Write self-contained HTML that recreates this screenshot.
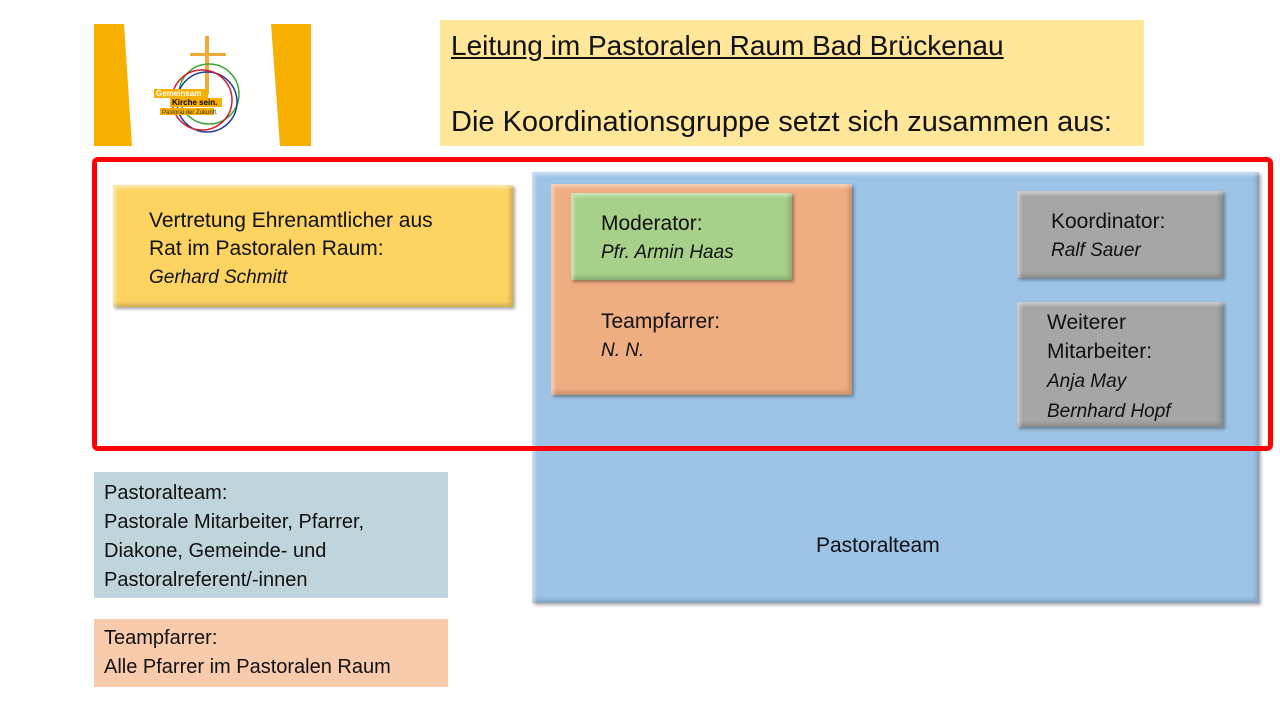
<!DOCTYPE html>
<html><head><meta charset="utf-8"><style>
body{margin:0;width:1280px;height:720px;background:#fff;position:relative;overflow:hidden;font-family:"Liberation Sans",sans-serif;color:#111}
.b{position:absolute;box-sizing:border-box}
.bev{box-shadow:inset 3px 3px 3px rgba(255,255,255,.45),inset -3px -3px 4px rgba(0,0,0,.18),2px 2px 3px rgba(0,0,0,.35)}
.t{position:absolute;font-size:21px;line-height:28px;white-space:nowrap}
i{font-size:19px}
</style></head><body>
<svg class="b" style="left:94px;top:24px" width="218" height="122">
<polygon points="0,0 30,0 38,122 0,122" fill="#f8b000"/>
<polygon points="177,0 217,0 217,122 186,122" fill="#f8b000"/>
<rect x="111" y="12" width="4" height="58" fill="#f2a93b"/>
<rect x="96" y="29" width="36" height="3" fill="#f2a93b"/>
<circle cx="115" cy="70" r="30" fill="none" stroke="#3fa535" stroke-width="1.5"/>
<circle cx="113" cy="78" r="30" fill="none" stroke="#1f3f99" stroke-width="1.5"/>
<circle cx="108" cy="76" r="30" fill="none" stroke="#d01f2f" stroke-width="1.5"/>
<rect x="60" y="65" width="54" height="9" fill="#f8b000"/>
<text x="62" y="72" font-size="8" fill="#fff" font-weight="bold">Gemeinsam</text>
<rect x="76" y="74" width="52" height="9" fill="#f8b000"/>
<text x="78" y="81" font-size="8" fill="#000" font-weight="bold">Kirche sein.</text>
<rect x="66" y="84" width="54" height="7" fill="#f8b000"/>
<text x="68" y="90" font-size="6" fill="#333">Pastoral der Zukunft.</text>
</svg>
<div class="b" style="left:440px;top:20px;width:704px;height:126px;background:#ffe699"></div>
<div class="t" style="left:451px;top:29px;font-size:28px;line-height:34px;text-decoration:underline">Leitung im Pastoralen Raum Bad Brückenau</div>
<div class="t" style="left:451px;top:105px;font-size:29px;line-height:34px">Die Koordinationsgruppe setzt sich zusammen aus:</div>

<div class="b bev" style="left:532px;top:172px;width:727px;height:431px;background:#9dc3e6"></div>
<div class="t" style="left:816px;top:532px">Pastoralteam</div>

<div class="b bev" style="left:113px;top:185px;width:400px;height:122px;background:#fdd462"></div>
<div class="t" style="left:149px;top:207px">Vertretung Ehrenamtlicher aus<br>Rat im Pastoralen Raum:<br><i>Gerhard Schmitt</i></div>

<div class="b bev" style="left:551px;top:184px;width:301px;height:211px;background:#efad82"></div>
<div class="b bev" style="left:571px;top:193px;width:221px;height:87px;background:#a7d08b"></div>
<div class="t" style="left:601px;top:210px">Moderator:<br><i>Pfr. Armin Haas</i></div>
<div class="t" style="left:601px;top:308px">Teampfarrer:<br><i>N. N.</i></div>

<div class="b bev" style="left:1017px;top:191px;width:206px;height:87px;background:#a6a6a6"></div>
<div class="t" style="left:1051px;top:208px">Koordinator:<br><i>Ralf Sauer</i></div>
<div class="b bev" style="left:1017px;top:302px;width:206px;height:125px;background:#a6a6a6"></div>
<div class="t" style="left:1047px;top:308px;line-height:29px">Weiterer<br>Mitarbeiter:<br><i>Anja May</i><br><i>Bernhard Hopf</i></div>

<div class="b" style="left:92px;top:157px;width:1181px;height:294px;border:5px solid #f00;border-radius:6px"></div>

<div class="b" style="left:94px;top:472px;width:354px;height:126px;background:#c0d5db"></div>
<div class="t" style="left:104px;top:479px;font-size:20px;line-height:29px">Pastoralteam:<br>Pastorale Mitarbeiter, Pfarrer,<br>Diakone, Gemeinde- und<br>Pastoralreferent/-innen</div>
<div class="b" style="left:94px;top:619px;width:354px;height:68px;background:#f8cbad"></div>
<div class="t" style="left:104px;top:624px;font-size:20px;line-height:29px">Teampfarrer:<br>Alle Pfarrer im Pastoralen Raum</div>
</body></html>
